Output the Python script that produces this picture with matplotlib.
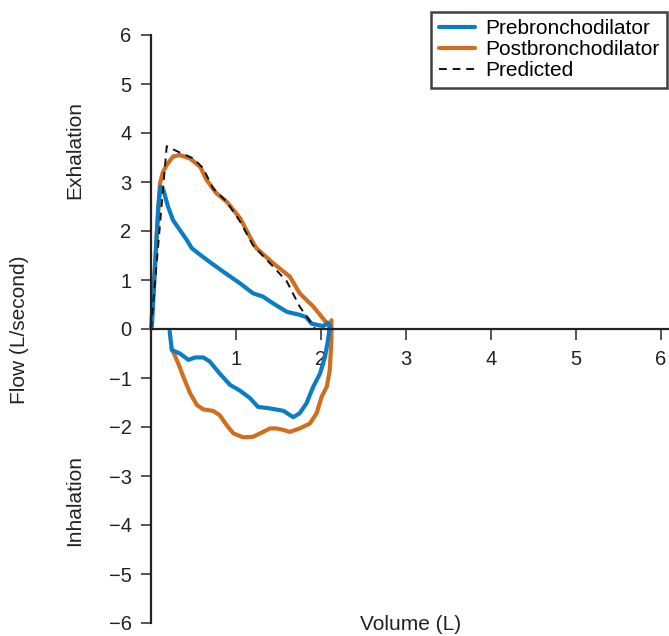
import matplotlib
matplotlib.use("Agg")
import matplotlib.pyplot as plt

plt.rcParams['font.family'] = ['Liberation Sans', 'DejaVu Sans']

# Predicted (dashed)
pred_x = [0.0, 0.185, 0.34, 0.50, 0.615, 0.73, 0.89, 1.05, 1.20, 1.44, 1.60, 1.75, 1.93]
pred_y = [0.0, 3.73, 3.60, 3.48, 3.28, 2.87, 2.60, 2.19, 1.71, 1.27, 0.97, 0.46, 0.01]

# Postbronchodilator (orange)
post_ex_x = [0.0, 0.03, 0.05, 0.07, 0.09, 0.106, 0.14, 0.185, 0.26, 0.34, 0.46, 0.58, 0.655, 0.77, 0.89, 1.05,
             1.165, 1.24, 1.44, 1.635, 1.75, 1.91, 2.07, 2.125]
post_ex_y = [0.0, 0.8, 1.4, 2.0, 2.55, 2.97, 3.2, 3.35, 3.52, 3.55, 3.48, 3.31, 3.04, 2.77, 2.60, 2.26,
             1.88, 1.65, 1.34, 1.07, 0.73, 0.46, 0.12, -0.02]
post_in_x = [2.125, 2.125, 2.105, 2.07, 2.01, 1.95, 1.87, 1.75, 1.635, 1.56, 1.48, 1.40, 1.32, 1.20, 1.085,
             0.97, 0.89, 0.81, 0.73, 0.615, 0.54, 0.46, 0.38, 0.32, 0.26, 0.245]
post_in_y = [0.18, -0.22, -0.84, -1.18, -1.38, -1.72, -1.93, -2.03, -2.10, -2.06, -2.03, -2.03, -2.10, -2.20, -2.21,
             -2.13, -1.96, -1.76, -1.67, -1.64, -1.55, -1.31, -0.97, -0.70, -0.46, -0.40]

# Prebronchodilator (blue)
pre_ex_x = [0.01, 0.05, 0.086, 0.11, 0.145, 0.20, 0.26, 0.34, 0.42, 0.48, 0.56, 0.69, 0.85, 1.05, 1.20, 1.32,
            1.44, 1.60, 1.75, 1.83, 1.89, 1.97, 2.03, 2.085, 2.11]
pre_ex_y = [0.05, 1.34, 2.50, 2.90, 2.84, 2.50, 2.22, 2.02, 1.82, 1.65, 1.54, 1.37, 1.17, 0.93, 0.73, 0.66,
            0.52, 0.35, 0.29, 0.24, 0.11, 0.08, 0.06, 0.13, 0.05]
pre_in_x = [0.22, 0.245, 0.34, 0.44, 0.52, 0.615, 0.69, 0.81, 0.93, 1.05, 1.165, 1.26, 1.40, 1.56, 1.675,
            1.75, 1.83, 1.91, 1.99, 2.05, 2.085, 2.105, 2.11]
pre_in_y = [-0.05, -0.43, -0.50, -0.63, -0.58, -0.58, -0.66, -0.91, -1.14, -1.26, -1.41, -1.59, -1.62, -1.67, -1.80,
            -1.72, -1.52, -1.18, -0.91, -0.56, -0.22, 0.05, 0.05]

x_ticks = [1, 2, 3, 4, 5, 6]
y_ticks = [-6, -5, -4, -3, -2, -1, 0, 1, 2, 3, 4, 5, 6]
y_ticklabels = ['\u22126', '\u22125', '\u22124', '\u22123', '\u22122', '\u22121', '0', '1', '2', '3', '4', '5', '6']

W, H = 669, 636
fs = 15
tfs = 14.5
fig = plt.figure(figsize=(W / 100, H / 100), dpi=100)
ax = fig.add_axes([151 / W, 13 / H, 518 / W, 588 / H])
ax.set_xlim(0, 6.1)
ax.set_ylim(-6, 6)

blue = '#0a7dc4'
orange = '#d06e1f'
lw = 3.0

l_post, = ax.plot(post_ex_x, post_ex_y, color=orange, lw=lw, solid_capstyle='round', solid_joinstyle='round', clip_on=False)
ax.plot(post_in_x, post_in_y, color=orange, lw=lw, solid_capstyle='round', solid_joinstyle='round', clip_on=False)
l_pre, = ax.plot(pre_ex_x, pre_ex_y, color=blue, lw=lw, solid_capstyle='round', solid_joinstyle='round', clip_on=False)
ax.plot(pre_in_x, pre_in_y, color=blue, lw=lw, solid_capstyle='round', solid_joinstyle='round', clip_on=False)
l_pred, = ax.plot(pred_x, pred_y, color='#111111', lw=1.4, ls=(0, (4, 3)), clip_on=False)

for s in ['top', 'right']:
    ax.spines[s].set_visible(False)
ax.spines['bottom'].set_position(('data', 0))
ax.spines['left'].set_position(('data', 0))
ax.spines['bottom'].set_linewidth(1.6)
ax.spines['left'].set_linewidth(1.6)
ax.spines['bottom'].set_color('#222222')
ax.spines['left'].set_color('#222222')

ax.set_xticks(x_ticks)
ax.set_yticks(y_ticks)
ax.set_yticklabels(y_ticklabels)
ax.tick_params(axis='x', direction='out', length=8, width=1.4, color='#555555', pad=7, labelsize=tfs, labelcolor='#222222')
ax.tick_params(axis='y', direction='out', length=7, width=1.4, color='#555555', pad=7, labelsize=tfs, labelcolor='#222222')

fig.text(20 / W, 1 - 330 / H, 'Flow (L/second)', rotation=90, ha='center', va='center', fontsize=fs, color='#222222')
fig.text(75 / W, 1 - 150 / H, 'Exhalation', rotation=90, ha='center', va='center', fontsize=fs, color='#222222')
fig.text(75 / W, 1 - 500 / H, 'Inhalation', rotation=90, ha='center', va='center', fontsize=fs, color='#222222')
fig.text(411 / W, 1 - 624 / H, 'Volume (L)', ha='center', va='center', fontsize=fs, color='#222222')

leg = fig.legend([l_pre, l_post, l_pred], ['Prebronchodilator', 'Postbronchodilator', 'Predicted'],
                 loc='upper right', bbox_to_anchor=(667 / W, 1 - 12 / H), fontsize=fs,
                 frameon=True, fancybox=False, edgecolor='#111111', handlelength=1.75,
                 borderpad=0.35, labelspacing=0.1, handletextpad=0.5, borderaxespad=0)
leg.get_frame().set_linewidth(1.8)

fig.savefig('out.png', dpi=100)
